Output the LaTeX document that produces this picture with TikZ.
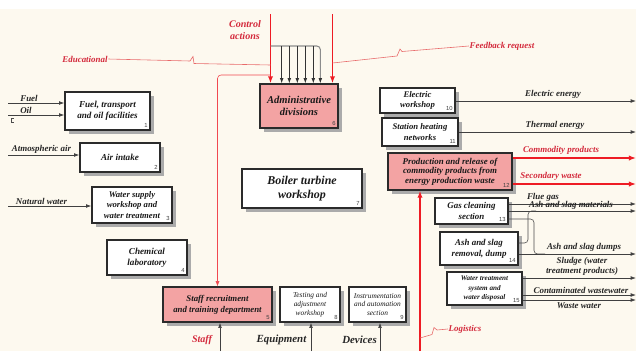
\documentclass[tikz,border=0pt]{standalone}
\usepackage{fontspec}
\setmainfont{Liberation Serif}
\setsansfont{Liberation Sans}
\usetikzlibrary{arrows.meta,shadows,calc}
\definecolor{bg}{HTML}{FDF9EF}
\definecolor{pinkfill}{HTML}{F3A3A3}
\definecolor{ctrlred}{HTML}{EE1C24}
\definecolor{labred}{HTML}{D42A3C}
\definecolor{pinkline}{HTML}{E86A6A}
\definecolor{boxline}{HTML}{2B2B2B}
\definecolor{shadowgray}{HTML}{ABABAB}
\newcommand{\fs}[2]{\fontsize{#1}{#2}\selectfont}
\begin{document}
\begin{tikzpicture}[x=0.03cm,y=-0.03cm,
  box/.style 2 args={draw=boxline, line width=1.15pt, fill=white,
    minimum width=#1*0.03cm, minimum height=#2*0.03cm, inner sep=1pt,
    align=center, text=black!90, font=\bfseries\itshape\fs{7.8}{9.5},
    drop shadow={shadow xshift=0.12cm, shadow yshift=-0.12cm, fill=shadowgray, opacity=1}},
  pinkbox/.style={fill=pinkfill},
  num/.style={font=\sffamily\fs{5}{5}, text=black!75, inner sep=2.4pt, anchor=south east},
  inarr/.style={draw=black!75, line width=0.6pt, -{Latex[length=4.5pt,width=3.2pt]}},
  thinln/.style={draw=black!70, line width=0.5pt},
  redarr/.style={draw=ctrlred, line width=1.3pt, -{Latex[length=6pt,width=4.5pt]}},
  pinkln/.style={draw=pinkline, line width=0.5pt},
  lab/.style={font=\bfseries\itshape\fs{7.6}{9}, text=black!85, inner sep=0.5pt, align=center},
  redlab/.style={lab, text=labred},
  biglab/.style={lab, font=\bfseries\itshape\fs{9.3}{10}}
]
\useasboundingbox (0,0) rectangle (636,351);
\fill[bg] (0,0) rectangle (636,351);
\fill[white] (0,0) rectangle (636,9);

% ---------- boxes ----------
\node[box={85}{38}] (b1) at (107.5,111) {Fuel, transport\\and oil facilities};
\node[box={80}{29}] (b2) at (120,157.5) {Air intake};
\node[box={80}{36}, font=\bfseries\itshape\fs{7.4}{8.6}] (b3) at (132,205) {Water supply\\workshop and\\water treatment};
\node[box={80}{35}] (b4) at (147,257.5) {Chemical\\laboratory};
\node[box={109}{35}, pinkbox, font=\bfseries\itshape\fs{7.5}{9.5}] (b5) at (217.5,304.5) {Staff recruitment\\and training department};
\node[box={78}{44}, pinkbox, font=\bfseries\itshape\fs{9}{10.3}] (b6) at (299,106) {Administrative\\divisions};
\node[box={120}{39}, font=\bfseries\itshape\fs{10.2}{11.5}] (b7) at (302,188.5) {Boiler turbine\\workshop};
\node[box={60}{35}, font=\itshape\fs{6.3}{7.6}] (b8) at (310,304.5) {Testing and\\adjustment\\workshop};
\node[box={57}{35}, font=\itshape\fs{6.3}{7.6}] (b9) at (377.5,304.5) {Instrumentation\\and automation\\section};
\node[box={75}{25}, font=\bfseries\itshape\fs{7.4}{8.6}] (b10) at (417.5,100.5) {Electric\\workshop};
\node[box={76}{28}, font=\bfseries\itshape\fs{7.4}{9.2}] (b11) at (420,132) {Station heating\\networks};
\node[box={124}{37}, pinkbox, font=\bfseries\itshape\fs{7.6}{8.2}] (b12) at (450,171.5) {Production and release of\\commodity products from\\energy production waste};
\node[box={73}{26}, font=\bfseries\itshape\fs{7.6}{9.2}] (b13) at (471.5,211) {Gas cleaning\\section};
\node[box={78}{33}, font=\bfseries\itshape\fs{7.6}{9.6}] (b14) at (479,248.5) {Ash and slag\\removal, dump};
\node[box={75}{33}, font=\bfseries\itshape\fs{6.1}{7.8}] (b15) at (484.5,288.5) {Water treatment\\system and\\water disposal};

\node[num] (n1) at (b1.south east) {1};
\node[num] (n2) at (b2.south east) {2};
\node[num] (n3) at (b3.south east) {3};
\node[num] (n4) at (b4.south east) {4};
\node[num] (n5) at (b5.south east) {5};
\node[num] (n6) at (b6.south east) {6};
\node[num] (n7) at (b7.south east) {7};
\node[num] (n8) at (b8.south east) {8};
\node[num] (n9) at (b9.south east) {9};
\node[num] (n10) at (b10.south east) {10};
\node[num] (n11) at (b11.south east) {11};
\node[num] (n12) at (b12.south east) {12};
\node[num] (n13) at (b13.south east) {13};
\node[num] (n14) at (b14.south east) {14};
\node[num] (n15) at (b15.south east) {15};

% ---------- left inputs ----------
\coordinate (fuelS) at (8,103);
\coordinate (oilS) at (8,115);
\coordinate (airS) at (8,155);
\coordinate (watS) at (8,206);
\draw[inarr] (fuelS) -- (fuelS -| b1.west);
\draw[inarr] (oilS) -- (oilS -| b1.west);
\draw[inarr] (airS) -- (airS -| b2.west);
\draw[inarr] (watS) -- (watS -| b3.west);
\draw[thinln] (14,118) -- (11,118) -- (11,122) -- (14,122);
\node[lab, anchor=south] (lfuel) at (29,102) {Fuel};
\node[lab, anchor=south] (loil) at (26,114) {Oil};
\node[lab, anchor=south] (lair) at (41.5,154) {Atmospheric air};
\node[lab, anchor=south] (lwat) at (41.5,205) {Natural water};

% ---------- control ----------
\node[redlab, font=\bfseries\itshape\fs{8.6}{11}] (lctrl) at (245,30) {Control\\actions};
\coordinate (c1) at (270.5,14);
\coordinate (c2) at (332.5,14);
\draw[redarr] (c1) -- (c1 |- b6.north);
\draw[redarr] (c2) -- (c2 |- b6.north);
\coordinate (combL) at (270.5,46);
\draw[draw=black!45, line width=0.9pt, rounded corners=3] (combL) -| ($(b6.north west)+(61,-2)$);
\draw[inarr, draw=black!80] ($(b6.north west)+(61,-3)$) -- ($(b6.north west)+(61,0)$);
\foreach \xx in {281.7,289.3,297.3,305.3,313.3}
  \draw[inarr, draw=black!80] (\xx,46) -- (\xx,46 |- b6.north);

% Educational
\node[redlab] (ledu) at (85,59) {Educational};
\coordinate (eduEnd) at (270.5,65);
\draw[pinkln] (ledu.east) -- (190,61) -- (193,56.5) -- (194,63.5) -- (eduEnd);

% Feedback request
\node[redlab] (lfb) at (502,46) {Feedback request};
\coordinate (fbEnd) at (332.5,63);
\draw[pinkln] (lfb.west) -- (402,51.5) -- (400,49) -- (397,56) -- (fbEnd);

% Staff training feedback line
\coordinate (stJ) at (270.5,75);
\draw[pinkln, rounded corners=3, -{Latex[length=4.5pt,width=3.5pt]}, draw=ctrlred!80] (stJ) -| (b5.north);

% ---------- right outputs ----------
\coordinate (eR) at (636,101);
\coordinate (tR) at (636,132);
\coordinate (cpR) at (636,158);
\coordinate (swR) at (636,184);
\coordinate (fgR) at (636,204);
\coordinate (asR) at (636,211);
\coordinate (adR) at (636,254);
\coordinate (slR) at (636,278);
\coordinate (cwR) at (636,295);
\coordinate (wwR) at (636,300);
\draw[inarr] (b10.east |- eR) -- (eR);
\draw[inarr] (b11.east |- tR) -- (tR);
\draw[redarr] (b12.east |- cpR) -- (cpR);
\draw[redarr] (b12.east |- swR) -- (swR);
\draw[inarr] (b13.east |- fgR) -- (fgR);
\draw[inarr] (b13.east |- asR) -- (asR);
\draw[thinln, rounded corners=3] (b13.east |- 0,219) -| (534,254) -- (545,254);
\draw[thinln, rounded corners=3] (b14.east |- 0,243) -| (528,211) -- (536,211);
\draw[inarr] (b14.east |- adR) -- (adR);
\draw[inarr] (b15.east |- slR) -- (slR);
\draw[inarr] (b15.east |- cwR) -- (cwR);
\draw[inarr] (b15.east |- wwR) -- (wwR);

\node[lab, anchor=south] (lee) at (553,99) {Electric energy};
\node[lab, anchor=south] (lte) at (555,130) {Thermal energy};
\node[redlab, anchor=south] (lcp) at (561,155) {Commodity products};
\node[redlab, anchor=south] (lsw) at (551,181.5) {Secondary waste};
\node[lab, anchor=south] (lfg) at (543,202) {Flue gas};
\node[lab, anchor=south] (las) at (571,210.5) {Ash and slag materials};
\node[lab, anchor=south] (lad) at (584,252) {Ash and slag dumps};
\node[lab, anchor=south] (lsl) at (582,276.5) {Sludge (water\\treatment products)};
\node[lab, anchor=south] (lcw) at (581,294) {Contaminated wastewater};
\node[lab, anchor=north] (lww) at (579,302) {Waste water};

% ---------- bottom inputs ----------
\coordinate (logS) at (420,351);
\draw[redarr] (logS) -- (logS |- b12.south);
\node[redlab] (llog) at (465,329) {Logistics};
\draw[pinkln] (llog.west) -- (437,330) -- (434,327.5) -- (432,334.5) -- (logS |- 0,338);

\coordinate (stS) at (220,351);
\coordinate (eqS) at (311,351);
\coordinate (dvS) at (380,351);
\draw[inarr] (stS) -- (stS |- b5.south);
\draw[inarr] (eqS) -- (eqS |- b8.south);
\draw[inarr] (dvS) -- (dvS |- b9.south);
\node[redlab, font=\bfseries\itshape\fs{8.6}{10}] (lstaff) at (202,340) {Staff};
\node[biglab] (leq) at (281.5,340) {Equipment};
\node[biglab] (ldv) at (359.5,340) {Devices};
\end{tikzpicture}
\end{document}
